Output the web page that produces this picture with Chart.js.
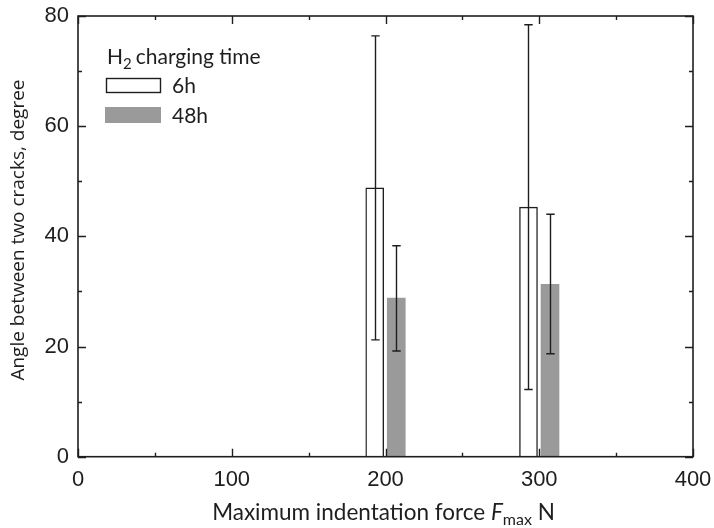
<!DOCTYPE html>
<html>
<head>
<meta charset="utf-8">
<script src="https://cdn.jsdelivr.net/npm/chart.js@4/dist/chart.umd.min.js"></script>
<style>
  html, body { margin: 0; padding: 0; background: #fff; }
  #wrap { width: 714px; height: 528px; position: relative; }
</style>
</head>
<body>
<div id="wrap"><canvas id="c" width="714" height="528"></canvas></div>
<script>
// ---- data ----
const forces = [200, 300];                 // Maximum indentation force, N
const seriesNames = ['6h', '48h'];          // H2 charging time
const angle6h = [48.8, 45.3];
const err6hLow = [21.2, 12.2];
const err6hHigh = [76.4, 78.4];
const angle48h = [28.8, 31.3];
const err48hLow = [19.2, 18.7];
const err48hHigh = [38.3, 44.0];
const xTicks = [0, 100, 200, 300, 400];
const yTicks = [0, 20, 40, 60, 80];

const INK = '#1e1e1e';
const GREY = '#9a9a9a';
const SHIFT = 7; // side-by-side shift of the two series around each force value

function pts(vals, sign) {
  return forces.map((f, i) => ({ x: f + sign * SHIFT, y: vals[i] }));
}

const errs = [
  { lo: err6hLow, hi: err6hHigh },
  { lo: err48hLow, hi: err48hHigh }
];

const decor = {
  id: 'decor',
  afterDatasetsDraw(chart) {
    const ctx = chart.ctx;
    const xs = chart.scales.x, ys = chart.scales.y;
    const a = chart.chartArea;
    ctx.save();
    // error bars
    ctx.strokeStyle = INK;
    ctx.lineWidth = 1.4;
    chart.data.datasets.forEach((ds, di) => {
      const meta = chart.getDatasetMeta(di);
      meta.data.forEach((bar, i) => {
        const x = Math.round(bar.x) + 0.5;
        const yl = ys.getPixelForValue(errs[di].lo[i]);
        const yh = ys.getPixelForValue(errs[di].hi[i]);
        ctx.beginPath();
        ctx.moveTo(x, yl); ctx.lineTo(x, yh);
        ctx.moveTo(x - 4.2, yl); ctx.lineTo(x + 4.2, yl);
        ctx.moveTo(x - 4.2, yh); ctx.lineTo(x + 4.2, yh);
        ctx.stroke();
      });
    });
    // frame
    ctx.lineWidth = 1.6;
    ctx.strokeStyle = INK;
    ctx.strokeRect(a.left, a.top, a.right - a.left, a.bottom - a.top);
    // inward ticks (major + minor) on all four sides
    ctx.lineWidth = 1.4;
    ctx.beginPath();
    for (let i = 0; i < xTicks.length; i++) {
      const v = xTicks[i];
      const px = Math.round(xs.getPixelForValue(v)) + 0.5;
      ctx.moveTo(px, a.bottom); ctx.lineTo(px, a.bottom - 8);
      ctx.moveTo(px, a.top); ctx.lineTo(px, a.top + 8);
      if (i < xTicks.length - 1) {
        const m = Math.round(xs.getPixelForValue((v + xTicks[i + 1]) / 2)) + 0.5;
        ctx.moveTo(m, a.bottom); ctx.lineTo(m, a.bottom - 4);
        ctx.moveTo(m, a.top); ctx.lineTo(m, a.top + 4);
      }
    }
    for (let i = 0; i < yTicks.length; i++) {
      const v = yTicks[i];
      const py = Math.round(ys.getPixelForValue(v)) + 0.5;
      ctx.moveTo(a.left, py); ctx.lineTo(a.left + 8, py);
      ctx.moveTo(a.right, py); ctx.lineTo(a.right - 8, py);
      if (i < yTicks.length - 1) {
        const m = Math.round(ys.getPixelForValue((v + yTicks[i + 1]) / 2)) + 0.5;
        ctx.moveTo(a.left, m); ctx.lineTo(a.left + 4, m);
        ctx.moveTo(a.right, m); ctx.lineTo(a.right - 4, m);
      }
    }
    ctx.stroke();

    // legend
    ctx.fillStyle = INK;
    ctx.textBaseline = 'alphabetic';
    ctx.textAlign = 'left';
    ctx.font = '21px Lato';
    let lx = a.left + 29, ly = 64;
    ctx.fillText('H', lx, ly);
    lx += ctx.measureText('H').width;
    ctx.font = '15px Lato';
    ctx.fillText('2', lx, ly + 5);
    lx += ctx.measureText('2').width + 4;
    ctx.font = '21px Lato';
    ctx.fillText('charging time', lx, ly);
    // 6h box
    ctx.lineWidth = 1.4;
    ctx.strokeStyle = INK;
    ctx.fillStyle = '#fff';
    ctx.fillRect(a.left + 28.5, 78.5, 54, 14);
    ctx.strokeRect(a.left + 28.5, 78.5, 54, 14);
    ctx.fillStyle = GREY;
    ctx.fillRect(a.left + 27, 107, 56, 16);
    ctx.fillStyle = INK;
    ctx.font = '21px Lato';
    ctx.fillText(seriesNames[0], a.left + 94, 92.5);
    ctx.fillText(seriesNames[1], a.left + 94, 122.5);

    // x-axis title with italic F and subscript
    const parts = [
      { t: 'Maximum indentation force ', f: '22.5px Lato', dy: 0 },
      { t: 'F', f: 'italic 22.5px Lato', dy: 0 },
      { t: 'max', f: '16px Lato', dy: 5 },
      { t: ' N', f: '22.5px Lato', dy: 0 }
    ];
    let tw = 0;
    parts.forEach(p => { ctx.font = p.f; p.w = ctx.measureText(p.t).width; tw += p.w; });
    let tx = (a.left + a.right) / 2 - tw / 2 - 2;
    const tyb = 520;
    parts.forEach(p => { ctx.font = p.f; ctx.fillText(p.t, tx, tyb + p.dy); tx += p.w; });

    // y-axis title
    ctx.save();
    ctx.translate(19, 230);
    ctx.rotate(-Math.PI / 2);
    ctx.textAlign = 'center';
    ctx.textBaseline = 'middle';
    ctx.font = '19px "Open Sans"';
    ctx.fillText('Angle between two cracks, degree', 0, 0);
    ctx.restore();
    ctx.restore();
  }
};

new Chart(document.getElementById('c'), {
  type: 'bar',
  data: {
    datasets: [
      {
        label: seriesNames[0],
        data: pts(angle6h, -1),
        backgroundColor: '#ffffff',
        borderColor: INK,
        borderWidth: 1.4,
        borderSkipped: 'start',
        barThickness: 18,
        grouped: false
      },
      {
        label: seriesNames[1],
        data: pts(angle48h, 1),
        backgroundColor: GREY,
        borderWidth: 0,
        barThickness: 18,
        grouped: false
      }
    ]
  },
  options: {
    responsive: false,
    animation: false,
    devicePixelRatio: 1,
    layout: { padding: { left: 0, top: 16, right: 21, bottom: 0 } },
    plugins: { legend: { display: false }, tooltip: { enabled: false } },
    scales: {
      x: {
        type: 'linear',
        offset: false,
        min: 0, max: 400,
        afterBuildTicks: s => { s.ticks = xTicks.map(v => ({ value: v })); },
        afterFit: s => { s.height = 71.3; s.paddingLeft = 0; s.paddingRight = 0; },
        grid: { display: false, drawTicks: false, offset: false },
        border: { display: false },
        ticks: { color: INK, font: { family: '"Liberation Sans", Arial', size: 22 }, padding: 10, maxRotation: 0 }
      },
      y: {
        min: 0, max: 80,
        afterBuildTicks: s => { s.ticks = yTicks.map(v => ({ value: v })); },
        afterFit: s => { s.width = 78; s.paddingTop = 0; s.paddingBottom = 0; },
        grid: { display: false, drawTicks: false },
        border: { display: false },
        ticks: { color: INK, font: { family: '"Liberation Sans", Arial', size: 22 }, padding: 9 }
      }
    }
  },
  plugins: [decor]
});
</script>
</body>
</html>
